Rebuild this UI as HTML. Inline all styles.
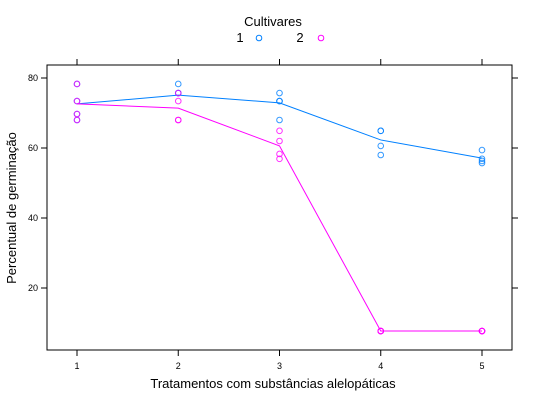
<!DOCTYPE html>
<html><head><meta charset="utf-8"><style>
body{margin:0;background:#fff;font-family:"Liberation Sans",sans-serif}
svg text{font-family:"Liberation Sans",sans-serif}
</style></head><body>
<svg id="c" width="540" height="400" xmlns="http://www.w3.org/2000/svg">
<text x="273" y="26" font-size="13" text-anchor="middle">Cultivares</text>
<g><text x="240" y="42" font-size="13" text-anchor="middle">1</text><circle cx="259" cy="38" r="2.8" fill="none" stroke="#0080ff"/></g>
<g><text x="300" y="42" font-size="13" text-anchor="middle">2</text><circle cx="321" cy="38" r="2.8" fill="none" stroke="#ff00ff"/></g>
<rect x="47" y="65" width="465" height="285" fill="none" stroke="#000" stroke-width="1"/>
<g id="axes"></g><g id="marks"></g>
<text x="273" y="388" font-size="13" text-anchor="middle">Tratamentos com substâncias alelopáticas</text>
<text transform="translate(16,208) rotate(-90)" font-size="13" text-anchor="middle">Percentual de germinação</text>
</svg>
<script>
const categories=[1,2,3,4,5];
const yTicks=[20,40,60,80];
const pts1=[[1,78.3],[1,73.4],[1,69.7],[1,68],[2,78.3],[2,75.7],[2,75.7],[3,75.7],[3,73.4],[3,73.4],[3,68],[4,64.9],[4,64.9],[4,60.6],[4,58],[5,59.4],[5,56.9],[5,56.3],[5,55.7]];
const pts2=[[1,78.3],[1,73.4],[1,69.7],[1,68],[2,75.7],[2,73.4],[2,68],[2,68],[3,64.9],[3,62],[3,58.3],[3,56.9],[4,7.7],[4,7.7],[4,7.7],[4,7.7],[5,7.7],[5,7.7],[5,7.7],[5,7.7]];
const line1=[72.6,75.1,72.9,62.3,57.1];
const line2=[72.6,71.4,60.6,7.7,7.7];
const NS="http://www.w3.org/2000/svg";
const X=v=>77+(v-1)*101.25;
const Y=v=>78+(80-v)*3.5;
const ax=document.getElementById('axes'),mk=document.getElementById('marks');
function el(t,a,p){const e=document.createElementNS(NS,t);for(const k in a)e.setAttribute(k,a[k]);p.appendChild(e);return e;}
categories.forEach(c=>{
 const t=el('line',{x1:X(c),x2:X(c),y1:350,y2:356,stroke:'#000'},ax);
 
 
 const t2=el('line',{x1:X(c),x2:X(c),y1:59,y2:65,stroke:'#000'},ax);
 
 
 const l=el('text',{x:X(c),y:369,'font-size':9,'text-anchor':'middle'},ax);l.textContent=c;
 
 
});
yTicks.forEach(v=>{
 const t=el('line',{x1:41,x2:47,y1:Y(v),y2:Y(v),stroke:'#000'},ax);
 
 
 const t2=el('line',{x1:512,x2:518,y1:Y(v),y2:Y(v),stroke:'#000'},ax);
 
 
 const l=el('text',{x:38,y:Y(v)+3,'font-size':9,'text-anchor':'end'},ax);l.textContent=v;
 
 
});
[[pts1,line1,'#0080ff','cultivar-1'],[pts2,line2,'#ff00ff','cultivar-2']].forEach(([p,ln,col,nm])=>{
 const pl=el('polyline',{points:ln.map((v,i)=>X(categories[i])+','+Y(v)).join(' '),fill:'none',stroke:col,'stroke-width':1},mk);
 
 
 p.forEach(([x,y])=>{
  const c=el('circle',{cx:X(x),cy:Y(y),r:2.8,fill:'none',stroke:col,'stroke-opacity':0.8},mk);
  
  
 });
});
</script>
</body></html>
